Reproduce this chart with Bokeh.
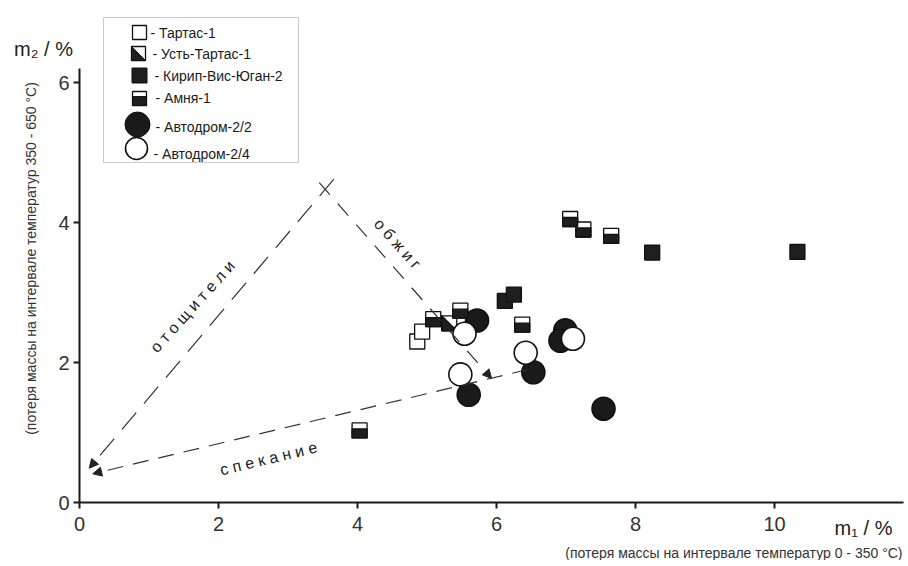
import math
from bokeh.plotting import figure
from bokeh.models import Label, Arrow, NormalHead, BoxAnnotation, FixedTicker, Range1d
from bokeh.embed import file_html
from bokeh.resources import INLINE

# ---------------- data ----------------
tartas_x = [4.86, 4.93]
tartas_y = [2.30, 2.44]
ust_x = [5.32]
ust_y = [2.56]
kirip_x = [6.12, 6.25, 8.24, 10.33]
kirip_y = [2.88, 2.97, 3.57, 3.58]
amnya_x = [5.09, 5.48, 6.37, 4.03, 7.06, 7.25, 7.65]
amnya_y = [2.62, 2.74, 2.54, 1.03, 4.05, 3.90, 3.81]
avt22_x = [5.60, 5.72, 6.53, 6.99, 6.92, 7.54]
avt22_y = [1.54, 2.60, 1.86, 2.46, 2.31, 1.34]
avt24_x = [5.54, 5.48, 6.42, 7.10]
avt24_y = [2.41, 1.83, 2.14, 2.34]
x_ticks = [0, 2, 4, 6, 8, 10]
y_ticks = [0, 2, 4, 6]
legend_labels = ["- Тартас-1", "- Усть-Тартас-1", "-  Кирип-Вис-Юган-2",
                 "-  Амня-1", "-  Автодром-2/2", "-  Автодром-2/4"]

# ---------------- layout ----------------
W, H = 904, 560
OX, OY = 79, 502               # page px of the data origin
SX, SY = 69.5, 70.0            # px per data unit
FONT = "Liberation Sans"

def px2x(px):   # page px -> data x
    return (px - OX) / SX

def px2y(py):   # page px -> data y
    return (OY - py) / SY

p = figure(width=W, height=H, output_backend="svg", toolbar_location=None,
           x_range=Range1d(px2x(0), px2x(W)), y_range=Range1d(px2y(H), px2y(0)),
           min_border_left=0, min_border_bottom=0,
           min_border_top=0, min_border_right=0)
p.grid.visible = False
p.outline_line_color = None
p.background_fill_color = "white"

for ax, ticks, bnd in ((p.xaxis[0], x_ticks, (0, px2x(W - 1))), (p.yaxis[0], y_ticks, (0, 6.2))):
    ax.fixed_location = 0
    ax.ticker = FixedTicker(ticks=ticks)
    ax.bounds = bnd
    ax.axis_line_width = 2
    ax.axis_line_color = "#1a1a1a"
    ax.major_tick_line_width = 2
    ax.major_tick_line_color = "#1a1a1a"
    ax.major_tick_out = 6
    ax.major_tick_in = 0
    ax.minor_tick_line_color = None
    ax.major_label_text_font = FONT
    ax.major_label_text_font_size = "20px"
    ax.major_label_text_color = "#333333"
p.xaxis[0].major_label_standoff = 8
p.yaxis[0].major_label_standoff = 4

# ---------------- arrows ----------------
def arrow(x0, y0, x1, y1, dash):
    p.add_layout(Arrow(end=NormalHead(size=9, fill_color="#222222", line_color="#222222", line_width=1),
                       x_start=x0, y_start=y0, x_end=x1, y_end=y1,
                       line_color="#333333", line_width=1.2, line_dash=dash))

arrow(3.66, 4.62, 0.14, 0.49, "22 12")
arrow(3.45, 4.57, 5.93, 1.77, "16 12")
arrow(6.45, 1.90, 0.19, 0.41, "16 10")

def tlabel(x, y, text, size, angle=0.0, align="center", color="#222222"):
    p.add_layout(Label(x=x, y=y, text=text, angle=angle, text_font=FONT,
                       text_font_size=size, text_color=color,
                       text_align=align, text_baseline="middle"))

tlabel(px2x(192), px2y(306), "о т о щ и т е л и", "16px", math.radians(48))
tlabel(px2x(397), px2y(243), "о б ж и г", "16px", math.radians(-48))
tlabel(px2x(268), px2y(458), "с п е к а н и е", "16px", math.radians(13.5))

# ---------------- marker helpers ----------------
SQ = 15
hx, hy = (SQ / 2) / SX, (SQ / 2) / SY

def squares_open(xs, ys):
    p.scatter(xs, ys, marker="square", size=SQ, fill_color="white",
              line_color="#111111", line_width=1.3)

def squares_black(xs, ys):
    p.scatter(xs, ys, marker="square", size=SQ, fill_color="#1e1e1e",
              line_color="#111111", line_width=1.3)

def squares_half(xs, ys):
    squares_open(xs, ys)
    fh = 9
    off = (SQ / 2 - fh / 2) / SY
    p.rect(list(xs), [y - off for y in ys], width=SQ, height=fh,
           width_units="screen", height_units="screen",
           fill_color="#1e1e1e", line_color="#111111", line_width=1.3)

def squares_diag(xs, ys):
    squares_open(xs, ys)
    p.patches([[x - hx, x + hx, x - hx] for x in xs],
              [[y - hy, y - hy, y + hy] for y in ys],
              fill_color="#1e1e1e", line_color="#111111", line_width=1.3)

def circles(xs, ys, filled, size=23):
    p.scatter(xs, ys, marker="circle", size=size,
              fill_color="#1a1a1a" if filled else "white",
              line_color="#111111", line_width=1.6)

# ---------------- data marks ----------------
circles(avt22_x, avt22_y, True)
squares_open(tartas_x, tartas_y)
squares_diag(ust_x, ust_y)
squares_half(amnya_x, amnya_y)
squares_black(kirip_x, kirip_y)
circles(avt24_x, avt24_y, False)

# ---------------- legend (drawn by hand) ----------------
p.add_layout(BoxAnnotation(left=px2x(103), right=px2x(298), top=px2y(17), bottom=px2y(162),
                           fill_color="white", fill_alpha=1, line_color="#555555", line_width=1,
                           level="underlay"))
lx = [139, 138, 139, 139, 137, 136]
ly = [32, 53, 75, 98, 124, 148]
tx = [150, 152, 154, 155, 155, 153]
ty = [32, 53, 75, 97, 126, 153]
LX = [px2x(v) for v in lx]
LY = [px2y(v) for v in ly]
p.scatter([LX[0]], [LY[0]], marker="square", size=14, fill_color="white", line_color="#111111", line_width=1.3)
p.scatter([LX[1]], [LY[1]], marker="square", size=14, fill_color="white", line_color="#111111", line_width=1.3)
h7x, h7y = 7 / SX, 7 / SY
p.patches([[LX[1] - h7x, LX[1] + h7x, LX[1] - h7x]], [[LY[1] - h7y, LY[1] - h7y, LY[1] + h7y]],
          fill_color="#1e1e1e", line_color="#111111")
p.scatter([LX[2]], [LY[2]], marker="square", size=15, fill_color="#1e1e1e", line_color="#111111")
p.scatter([LX[3]], [LY[3]], marker="square", size=14, fill_color="white", line_color="#111111", line_width=1.3)
p.rect([LX[3]], [LY[3] - 2.5 / SY], width=14, height=9, width_units="screen", height_units="screen",
       fill_color="#1e1e1e", line_color="#111111")
p.scatter([LX[4]], [LY[4]], marker="circle", size=25, fill_color="#1a1a1a", line_color="#111111")
p.scatter([LX[5]], [LY[5]], marker="circle", size=22, fill_color="white", line_color="#111111", line_width=1.6)
for i, t in enumerate(legend_labels):
    p.add_layout(Label(x=px2x(tx[i]), y=px2y(ty[i]), text=t, text_font=FONT, text_font_size="14px",
                       text_color="#1a1a1a", text_align="left", text_baseline="middle"))

# ---------------- axis titles ----------------
tlabel(px2x(43), px2y(48), "m₂ / %", "20px", color="#222222")
tlabel(px2x(863), px2y(527), "m₁ / %", "20px", color="#222222")
tlabel(px2x(30), px2y(258), "(потеря массы на интервале температур 350 - 650 °C)", "14px",
       math.pi / 2, color="#333333")
tlabel(px2x(902), px2y(552), "(потеря массы на интервале температур 0 - 350 °C)", "14px",
       align="right", color="#333333")

open("out.html", "w").write(file_html(p, INLINE))
